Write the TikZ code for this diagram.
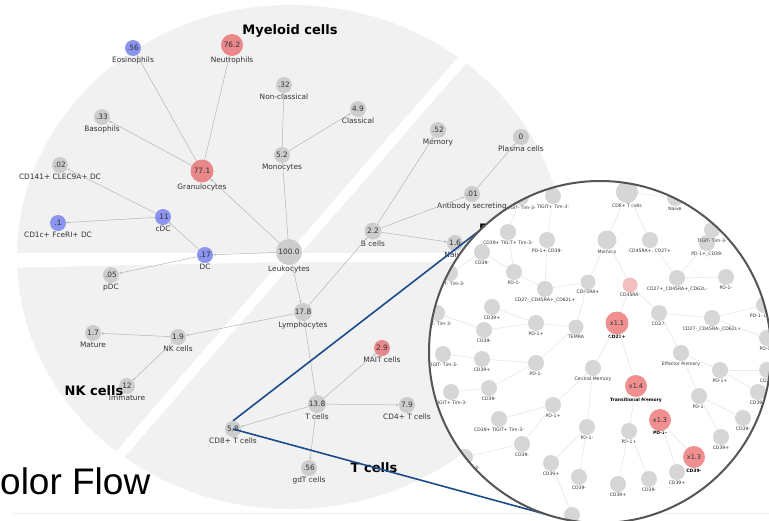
\documentclass[tikz,border=0pt]{standalone}
\usepackage{fontspec}
\setmainfont{DejaVu Sans}
\newfontfamily\flowfont{Liberation Sans}
\usetikzlibrary{arrows.meta}
\definecolor{Disc}{HTML}{F1F1F1}
\definecolor{Cell}{HTML}{CDCDCD}
\definecolor{CellRed}{HTML}{E8888A}
\definecolor{CellBlue}{HTML}{8B94EE}
\definecolor{Edge}{HTML}{B5B5B5}
\definecolor{Ink}{HTML}{333333}
\definecolor{Zoom}{HTML}{1C4B8C}
\definecolor{Rim}{HTML}{555555}
\definecolor{SubCell}{HTML}{D6D6D6}
\definecolor{SubEdge}{HTML}{EAEAEA}
\definecolor{SubRed}{HTML}{F08F8F}
\definecolor{SubPink}{HTML}{F5BEBE}
\definecolor{Hair}{HTML}{EFEFEF}

\begin{document}
\begin{tikzpicture}[x=1pt,y=-1pt,
      cell/.style={circle,inner sep=0pt,minimum size=16pt,fill=Cell,text=Ink,
        font=\fontsize{7.4}{8}\selectfont,label distance=-1pt},
      hi/.style={fill=CellRed},
      lo/.style={fill=CellBlue},
      lab/.style={font=\fontsize{7.4}{8}\selectfont,text=Ink,inner sep=0.5pt},
      edge/.style={draw=Edge,line width=0.5pt,-{Stealth[length=2.6pt,width=2.2pt]}},
      group/.style={font=\fontsize{13}{14}\selectfont\bfseries,text=black,inner sep=0pt},
      zoomline/.style={draw=Zoom,line width=1.6pt},
      sub/.style={circle,inner sep=0pt,minimum size=16pt,fill=SubCell,label distance=-1.2pt},
      subhot/.style={sub,fill=SubRed,minimum size=22pt,text=Ink,
        font=\fontsize{6.5}{7}\selectfont,label distance=2.5pt},
      sublab/.style={font=\fontsize{4.6}{5}\selectfont,text=Ink,inner sep=0.3pt},
      subbold/.style={font=\fontsize{4.5}{5}\selectfont\bfseries,text=black,inner sep=0.3pt},
      link/.style={draw=SubEdge,line width=0.7pt}
    ]
      \path[use as bounding box,clip] (0,0) rectangle (769,520);
      \fill[white] (0,0) rectangle (769,520);
      \fill[Disc] (291,257) ellipse [x radius=274, y radius=252];
      \fill[white] (0,253) -- (769,253) -- (769,262) -- (291,262) -- (0,268) -- cycle;
      \draw[white,line width=10pt] (470,51) -- (110,466);
      \draw[Hair,line width=0.8pt] (13,513) -- (769,513);

      \node[cell,lo,label={[lab]below:Eosinophils}] (eos) at (133,48) {.56};
      \node[cell,hi,minimum size=22pt,label={[lab]below:Neutrophils}] (neut) at (232,45) {76.2};
      \node[cell,label={[lab]below:Basophils}] (baso) at (102,117) {.33};
      \node[cell,label={[lab]below:CD141+ CLEC9A+ DC}] (cdk) at (60,165) {.02};
      \node[cell,hi,minimum size=23pt,label={[lab]below:Granulocytes}] (gran) at (202,171) {77.1};
      \node[cell,label={[lab]below:Non-classical}] (ncl) at (284,85) {.32};
      \node[cell,label={[lab]below:Classical}] (cls) at (358,109) {4.9};
      \node[cell,label={[lab]below:Monocytes}] (mono) at (282,155) {5.2};
      \node[cell,lo,label={[lab]below:cDC}] (cdc) at (163,217) {.11};
      \node[cell,lo,label={[lab]below:CD1c+ FceRI+ DC}] (cdone) at (58,223) {.1};
      \node[cell,lo,label={[lab]below:DC}] (dc) at (205,255) {.17};
      \node[cell,label={[lab]below:pDC}] (pdc) at (111,275) {.05};
      \node[cell,minimum size=26pt,label={[lab]below:Leukocytes}] (leuk) at (289,252) {100.0};
      \node[cell,minimum size=18pt,label={[lab]below:Lymphocytes}] (lymph) at (303,312) {17.8};
      \node[cell,minimum size=17pt,label={[lab]below:B cells}] (bcell) at (373,231) {2.2};
      \node[cell,label={[lab]below:Memory}] (bmem) at (438,130) {.52};
      \node[cell,label={[lab]below:Plasma cells}] (plasma) at (521,137) {0};
      \node[cell,label={[lab]below:Antibody secreting}] (abs) at (472,194) {.01};
      \node[cell,label={[lab]below:Naive}] (bnaive) at (455,243) {1.6};
      \node[cell,label={[lab]below:NK cells}] (nk) at (178,337) {1.9};
      \node[cell,label={[lab]below:Mature}] (mature) at (93,333) {1.7};
      \node[cell,label={[lab]below:Immature}] (immature) at (127,386) {12};
      \node[cell,minimum size=18pt,label={[lab]below:T cells}] (tcell) at (317,404) {13.8};
      \node[cell,hi,label={[lab]below:MAIT cells}] (mait) at (382,348) {2.9};
      \node[cell,label={[lab]below:CD4+ T cells}] (cdfour) at (407,405) {7.9};
      \node[cell,label={[lab]below:CD8+ T cells}] (cdeight) at (233,429) {5.8};
      \node[cell,label={[lab]below:gdT cells}] (gdt) at (309,468) {.56};

      \draw[edge] (leuk) -- (gran);
      \draw[edge] (gran) -- (eos);
      \draw[edge] (gran) -- (neut);
      \draw[edge] (gran) -- (baso);
      \draw[edge] (leuk) -- (mono);
      \draw[edge] (mono) -- (ncl);
      \draw[edge] (mono) -- (cls);
      \draw[edge] (leuk) -- (dc);
      \draw[edge] (dc) -- (cdc);
      \draw[edge] (dc) -- (pdc);
      \draw[edge] (cdc) -- (cdone);
      \draw[edge] (cdc) -- (cdk);
      \draw[edge] (leuk) -- (lymph);
      \draw[edge] (lymph) -- (bcell);
      \draw[edge] (lymph) -- (nk);
      \draw[edge] (lymph) -- (tcell);
      \draw[edge] (bcell) -- (bmem);
      \draw[edge] (bcell) -- (abs);
      \draw[edge] (bcell) -- (bnaive);
      \draw[edge] (abs) -- (plasma);
      \draw[edge] (nk) -- (mature);
      \draw[edge] (nk) -- (immature);
      \draw[edge] (tcell) -- (mait);
      \draw[edge] (tcell) -- (cdfour);
      \draw[edge] (tcell) -- (cdeight);
      \draw[edge] (tcell) -- (gdt);

      \node[group] (myeloid) at (290,31) {Myeloid cells};
      \node[group] (bgroup) at (503,229) {B cells};
      \node[group] (nkgroup) at (94,391) {NK cells};
      \node[group] (tgroup) at (374,468) {T cells};
      \node[anchor=base west,inner sep=0pt,font=\fontsize{37}{40}\selectfont\flowfont] (flow) at (0,494) {olor Flow};

      \coordinate (ztop) at (510,207);
      \coordinate (zbot) at (556,517);
      \draw[zoomline] (cdeight.north) -- (ztop);
      \draw[zoomline] (cdeight.center) -- (zbot);

      \fill[white] (600,352) circle (171);
      \begin{scope}
      \clip (600,352) circle (171);
      \node[sub,minimum size=22pt,label={[sublab]below:CD8+ T cells}] (iroot) at (627,192) {};
      \node[sub,label={[sublab]below:Naive}] (inaive) at (675,198) {};
      \node[sub,minimum size=19pt,label={[sublab]below:Memory}] (imem) at (607,240) {};
      \node[sub,label={[sublab]below:{CD45RA+, CD27+}}] (ipp) at (650,240) {};
      \node[sub,label={[sublab]below:CD27+\_CD45RA+\_CD62L-}] (ippc) at (677,278) {};
      \node[sub,label={[sublab]below:PD-1-}] (ippcn) at (726,277) {};
      \node[sub,label={[sublab]below:PD-1+\_CD39-}] (ippcp) at (707,243) {};
      \node[sub,label={[sublab]below:TIGIT- Tim-3-}] (ippcpt) at (712,230) {};
      \node[sub,minimum size=15pt,label={[sublab]below:CD45RA+}] (ira) at (588,282) {};
      \node[sub,fill=SubPink,minimum size=15pt,label={[sublab]below:CD45RA-}] (irn) at (630,285) {};
      \node[sub,minimum size=15pt,label={[sublab]below:TEMRA}] (itemra) at (576,327) {};
      \node[sub,label={[sublab]below:CD27-\_CD45RA+\_CD62L+}] (irac) at (545,289) {};
      \node[sub,label={[sublab]below:PD-1-}] (iracn) at (514,272) {};
      \node[sub,label={[sublab]below:PD-1+ CD39-}] (iracp) at (547,240) {};
      \node[sub,label={[sublab]below:TIGIT+ Tim-3-}] (iracpt) at (553,196) {};
      \node[sub,label={[sublab]below:CD39+ TIGIT+ Tim-3-}] (iracnp) at (508,232) {};
      \node[sub,label={[sublab]below:TIGIT- Tim-3-}] (iracnpt) at (521,197) {};
      \node[sub,label={[sublab]below:CD39-}] (iracnn) at (482,252) {};
      \node[sub,label={[sublab]below:TIGIT- Tim-3-}] (iracnnt) at (450,273) {};
      \node[sub,label={[sublab]below:PD-1+}] (ipa) at (536,323) {};
      \node[sub,label={[sublab]below:CD39+}] (ipaa) at (492,307) {};
      \node[sub,label={[sublab]below:CD39-}] (ipab) at (484,330) {};
      \node[sub,label={[sublab]below:TIGIT- Tim-3-}] (ipabt) at (437,313) {};
      \node[sub,label={[sublab]below:PD-1-}] (ipb) at (536,363) {};
      \node[sub,label={[sublab]below:CD39+}] (ipba) at (482,359) {};
      \node[sub,label={[sublab]below:TIGIT- Tim-3-}] (ipbat) at (443,354) {};
      \node[sub,label={[sublab]below:CD39-}] (ipbb) at (489,388) {};
      \node[sub,label={[sublab]below:TIGIT+ Tim-3-}] (ipbbt) at (451,392) {};
      \node[subhot,minimum size=23pt,label={[subbold]below:CD27+}] (icdp) at (617,323) {x1.1};
      \node[sub,label={[sublab]below:Central Memory}] (icm) at (593,368) {};
      \node[sub,label={[sublab]below:PD-1+}] (icma) at (553,405) {};
      \node[sub,label={[sublab]below:CD39+ TIGIT+ Tim-3-}] (icmaa) at (499,419) {};
      \node[sub,label={[sublab]below:CD39-}] (icmab) at (522,444) {};
      \node[sub,label={[sublab]below:TIGIT- Tim-3-}] (icmabt) at (465,457) {};
      \node[sub,label={[sublab]below:PD-1-}] (icmb) at (587,427) {};
      \node[sub,label={[sublab]below:CD39+}] (icmba) at (551,463) {};
      \node[sub,label={[sublab]below:CD39-}] (icmbb) at (579,477) {};
      \node[sub] (icmbat) at (572,515) {};
      \node[subhot,label={[subbold]below:Transitional Memory}] (itm) at (636,386) {x1.4};
      \node[sub,label={[sublab]below:PD-1+}] (itma) at (629,431) {};
      \node[sub,label={[sublab]below:CD39+}] (itmaa) at (618,484) {};
      \node[sub,label={[sublab]below:CD39-}] (itmab) at (649,479) {};
      \node[subhot,label={[subbold]below:PD-1-}] (itmb) at (660,420) {x1.3};
      \node[sub,label={[sublab]below:CD39+}] (itmba) at (677,472) {};
      \node[subhot,label={[subbold]below:CD39-}] (itmbb) at (694,457) {x1.3};
      \node[sub,label={[sublab]below:CD27-}] (icdn) at (659,313) {};
      \node[sub,label={[sublab]below:Effector Memory}] (iem) at (681,353) {};
      \node[sub,label={[sublab]below:PD-1+}] (iema) at (720,370) {};
      \node[sub,label={[sublab]below:CD39-}] (iemaa) at (767,370) {};
      \node[sub,label={[sublab]below:CD39+}] (iemab) at (758,392) {};
      \node[sub,label={[sublab]below:PD-1-}] (iemb) at (699,396) {};
      \node[sub,label={[sublab]below:CD39-}] (iemba) at (743,418) {};
      \node[sub,label={[sublab]below:CD39+}] (iembb) at (721,437) {};
      \node[sub,label={[sublab]below:CD27-\_CD45RA-\_CD62L+}] (icdnc) at (712,318) {};
      \node[sub,label={[sublab]below:PD-1- CD39-}] (icdnca) at (764,305) {};
      \node[sub,label={[sublab]below:PD-1+}] (icdncb) at (767,338) {};

      \draw[link] (iroot) -- (inaive);
      \draw[link] (iroot) -- (imem);
      \draw[link] (iroot) -- (ipp);
      \draw[link] (ipp) -- (ippc);
      \draw[link] (ippc) -- (ippcn);
      \draw[link] (ippc) -- (ippcp);
      \draw[link] (imem) -- (ira);
      \draw[link] (imem) -- (irn);
      \draw[link] (ira) -- (itemra);
      \draw[link] (ira) -- (irac);
      \draw[link] (irac) -- (iracn);
      \draw[link] (irac) -- (iracp);
      \draw[link] (iracp) -- (iracpt);
      \draw[link] (iracn) -- (iracnp);
      \draw[link] (iracn) -- (iracnn);
      \draw[link] (iracnp) -- (iracnpt);
      \draw[link] (iracnn) -- (iracnnt);
      \draw[link] (itemra) -- (ipa);
      \draw[link] (itemra) -- (ipb);
      \draw[link] (ipa) -- (ipaa);
      \draw[link] (ipa) -- (ipab);
      \draw[link] (ipab) -- (ipabt);
      \draw[link] (ipb) -- (ipba);
      \draw[link] (ipb) -- (ipbb);
      \draw[link] (ipba) -- (ipbat);
      \draw[link] (ipbb) -- (ipbbt);
      \draw[link] (irn) -- (icdp);
      \draw[link] (irn) -- (icdn);
      \draw[link] (icdp) -- (icm);
      \draw[link] (icdp) -- (itm);
      \draw[link] (icm) -- (icma);
      \draw[link] (icm) -- (icmb);
      \draw[link] (icma) -- (icmaa);
      \draw[link] (icma) -- (icmab);
      \draw[link] (icmab) -- (icmabt);
      \draw[link] (icmb) -- (icmba);
      \draw[link] (icmb) -- (icmbb);
      \draw[link] (icmba) -- (icmbat);
      \draw[link] (itm) -- (itma);
      \draw[link] (itm) -- (itmb);
      \draw[link] (itma) -- (itmaa);
      \draw[link] (itma) -- (itmab);
      \draw[link] (itmb) -- (itmba);
      \draw[link] (itmb) -- (itmbb);
      \draw[link] (icdn) -- (iem);
      \draw[link] (icdn) -- (icdnc);
      \draw[link] (iem) -- (iema);
      \draw[link] (iem) -- (iemb);
      \draw[link] (iema) -- (iemaa);
      \draw[link] (iema) -- (iemab);
      \draw[link] (iemb) -- (iemba);
      \draw[link] (iemb) -- (iembb);
      \draw[link] (icdnc) -- (icdnca);
      \draw[link] (icdnc) -- (icdncb);
      \end{scope}
      \draw[Rim,line width=2pt] (600,352) circle (171);
    \end{tikzpicture}
\end{document}
